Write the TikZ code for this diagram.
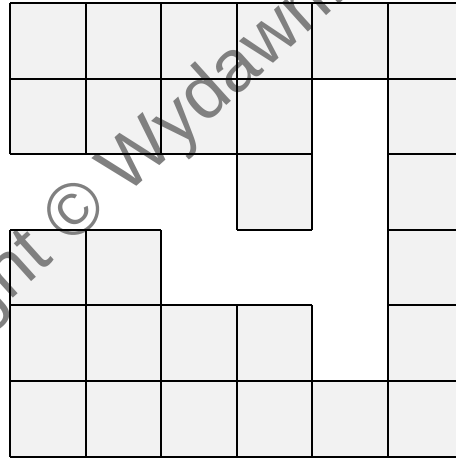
\documentclass[tikz,border=0pt]{standalone}
\usepackage{fontspec}
\setmainfont{Liberation Sans}
\definecolor{cellgray}{HTML}{F2F2F2}
\begin{document}
\begin{tikzpicture}[scale=2]
            \useasboundingbox(-0.132,-0.032) rectangle (5.900,6.040);
            \clip(-0.132,-0.032) rectangle (5.900,6.040);
            \fill[cellgray](0,4) rectangle (4,6);
            \fill[cellgray](4,5) rectangle (6,6);
            \fill[cellgray](5,0) rectangle (6,5);
            \fill[cellgray](3,3) rectangle (4,4);
            \fill[cellgray](0,1) rectangle (2,3);
            \fill[cellgray](2,1) rectangle (4,2);
            \fill[cellgray](0,0) rectangle (6,1);
            \node[text=gray,font=\fontsize{55.5}{57}\selectfont,rotate=42,anchor=base west,inner sep=0pt] (wm) at (-2.509,-0.196) {Copyright © Wydawnictwo};
            \draw[line width=1.5pt](0,4) grid (4,6);
            \draw[line width=1.5pt](4,5) grid (6,6);
            \draw[line width=1.5pt](5,0) grid (6,5);
            \draw[line width=1.5pt](3,3) grid (4,4);
            \draw[line width=1.5pt](0,1) grid (2,3);
            \draw[line width=1.5pt](2,1) grid (4,2);
            \draw[line width=1.5pt](0,0) grid (6,1);
        \end{tikzpicture}
\end{document}
